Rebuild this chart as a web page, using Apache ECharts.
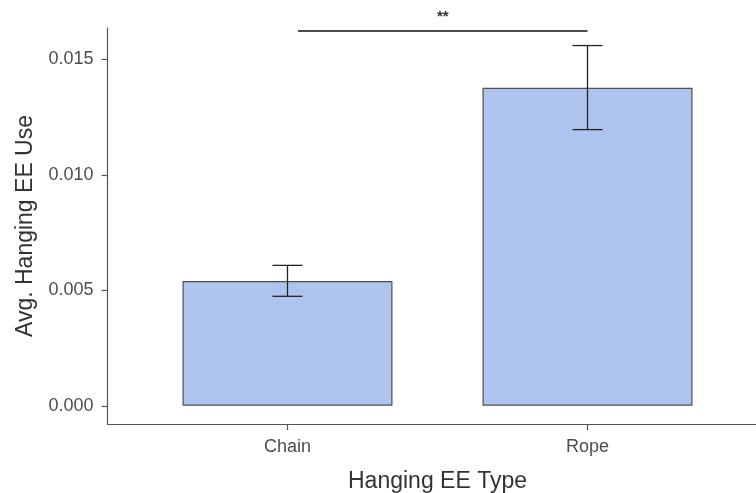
<!DOCTYPE html>
<html>
<head>
<meta charset="utf-8">
<script src="https://cdn.jsdelivr.net/npm/echarts@6/dist/echarts.min.js"></script>
<style>
  html, body { margin: 0; padding: 0; background: #fff; }
  #chart { width: 756px; height: 493px; }
</style>
</head>
<body>
<div id="chart"></div>
<script>
// Hanging end-effector usage by type: mean with error range
const categories = ['Chain', 'Rope'];
const categoryPos = [1, 2];
const means = [0.0054, 0.01377];
const errLow = [0.00474, 0.01196];
const errHigh = [0.00608, 0.0156];
const yTicks = [0, 0.005, 0.01, 0.015];
// significance bracket between the two types
const sigSpan = [1.035, 2];
const sigLevel = 0.01623;
const sigLabel = '**';

const font = 'Liberation Sans, Arial, Helvetica, sans-serif';
const chart = echarts.init(document.getElementById('chart'), null, { renderer: 'canvas' });

const barData = categoryPos.map((x, i) => [x, means[i]]);
const errData = categoryPos.map((x, i) => [x, errLow[i], errHigh[i]]);

chart.setOption({
  animation: false,
  backgroundColor: '#ffffff',
  grid: { left: 107.5, right: 0, top: 28, bottom: 69, containLabel: false, outerBoundsMode: 'none' },
  xAxis: {
    type: 'value',
    min: 0.4,
    max: 2.5617,
    name: 'Hanging EE Type',
    nameLocation: 'middle',
    nameGap: 46,
    nameTextStyle: { fontFamily: font, fontSize: 23, color: '#333333', padding: [0, 0, 0, 11.5] },
    splitLine: { show: false },
    axisLine: { show: true, onZero: false, lineStyle: { color: '#555555', width: 1.2 } },
    axisTick: { show: true, length: 6, customValues: categoryPos, lineStyle: { color: '#555555', width: 1.2 } },
    axisLabel: {
      customValues: categoryPos,
      margin: 14,
      fontFamily: font, fontSize: 18, color: '#4d4d4d',
      formatter: v => categories[categoryPos.indexOf(Math.round(v))] || ''
    }
  },
  yAxis: {
    type: 'value',
    min: -0.00079,
    max: 0.01636,
    name: 'Avg. Hanging EE Use',
    nameLocation: 'middle',
    nameGap: 69,
    nameRotate: 90,
    nameTextStyle: { fontFamily: font, fontSize: 23, color: '#333333' },
    splitLine: { show: false },
    axisLine: { show: true, onZero: false, lineStyle: { color: '#555555', width: 1.2 } },
    axisTick: { show: true, length: 6, customValues: yTicks, lineStyle: { color: '#555555', width: 1.2 } },
    axisLabel: {
      customValues: yTicks,
      margin: 14,
      fontFamily: font, fontSize: 18, color: '#4d4d4d',
      formatter: v => v.toFixed(3)
    }
  },
  series: [
    {
      type: 'bar',
      data: barData,
      barWidth: 210,
      itemStyle: { color: '#AEC3EE', borderColor: '#4f4f4f', borderWidth: 1.2 }
    },
    {
      type: 'custom',
      data: errData,
      z: 5,
      renderItem: (params, api) => {
        const x = api.value(0);
        const lo = api.coord([x, api.value(1)]);
        const hi = api.coord([x, api.value(2)]);
        const half = api.size([0.1, 0])[0] / 2;
        const style = { stroke: '#222222', lineWidth: 1.3 };
        return {
          type: 'group',
          children: [
            { type: 'line', shape: { x1: lo[0], y1: lo[1], x2: hi[0], y2: hi[1] }, style },
            { type: 'line', shape: { x1: lo[0] - half, y1: lo[1], x2: lo[0] + half, y2: lo[1] }, style },
            { type: 'line', shape: { x1: hi[0] - half, y1: hi[1], x2: hi[0] + half, y2: hi[1] }, style }
          ]
        };
      }
    },
    {
      type: 'custom',
      data: [[sigSpan[0], sigSpan[1], sigLevel]],
      clip: false,
      z: 6,
      renderItem: (params, api) => {
        const a = api.coord([api.value(0), api.value(2)]);
        const b = api.coord([api.value(1), api.value(2)]);
        return {
          type: 'group',
          children: [
            { type: 'line', shape: { x1: a[0], y1: a[1], x2: b[0], y2: b[1] }, style: { stroke: '#111111', lineWidth: 1.6 } },
            { type: 'text', x: (a[0] + b[0]) / 2, y: a[1] - 14,
              style: { text: sigLabel, fontFamily: font, fontSize: 15, fontWeight: 'bold', fill: '#333333', align: 'center', verticalAlign: 'middle' } }
          ]
        };
      }
    }
  ]
});
</script>
</body>
</html>
